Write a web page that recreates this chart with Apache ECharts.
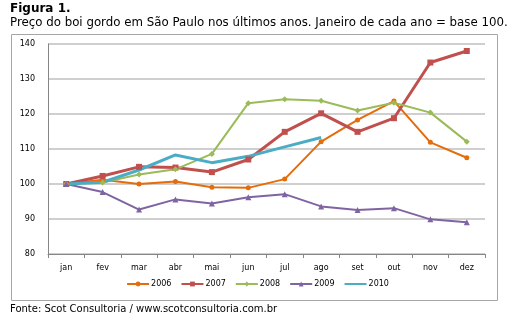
<!DOCTYPE html>
<html><head><meta charset="utf-8">
<script src="https://cdn.jsdelivr.net/npm/echarts@6/dist/echarts.min.js"></script>
<style>html,body{margin:0;padding:0;background:#fff}#c{width:515px;height:321px}</style>
</head><body><div id="c"></div>
<script>
const months = ['jan','fev','mar','abr','mai','jun','jul','ago','set','out','nov','dez'];
const s2006 = [100,101.2,100,100.7,99.1,98.9,101.4,112.1,118.3,123.7,111.9,107.5];
const s2007 = [100,102.3,104.9,104.7,103.4,107,114.9,120.2,114.9,118.8,134.7,138];
const s2008 = [100,100.4,102.7,104.2,108.6,123.1,124.2,123.8,121,123.2,120.4,112.1];
const s2009 = [100,97.7,92.7,95.6,94.4,96.2,97.1,93.6,92.6,93.1,89.9,89.1];
const s2010 = [100,100.5,104,108.3,106.1,107.9,110.6,113.3];
const yTicks = [80,90,100,110,120,130,140];

const chart = echarts.init(document.getElementById('c'), null, {renderer:'canvas'});
const font = 'DejaVu Sans';
function ser(name, data, color, symbol, size, width){
  return {name, type:'line', data, color, symbol, symbolSize:size, showSymbol: symbol!=='none',
    lineStyle:{width, color}, itemStyle:{color}, z: 2};
}
chart.setOption({
  animation:false,
  textStyle:{fontFamily:font},
  graphic:[
    {type:'rect', shape:{x:11.5,y:34.5,width:486,height:266}, style:{fill:'none', stroke:'#a6a6a6', lineWidth:1}},
    {type:'text', left:10, top:3, style:{text:'Figura 1.', font:'bold 12px "DejaVu Sans"', fill:'#000'}},
    {type:'text', left:10, top:17, style:{text:'Preço do boi gordo em São Paulo nos últimos anos. Janeiro de cada ano = base 100.', font:'11.8px "DejaVu Sans"', fill:'#000'}},
    {type:'text', left:10, top:304, style:{text:'Fonte: Scot Consultoria / www.scotconsultoria.com.br', font:'10px "DejaVu Sans"', fill:'#000'}}
  ],
  grid:{left:48, right:30, top:44, bottom:67, containLabel:false},
  legend:{bottom:28, left:'center', itemWidth:22, itemHeight:6, itemGap:9,
    textStyle:{fontSize:8, fontFamily:font, color:'#000', padding:[0,0,0,-3]},
    data:['2006','2007','2008','2009',{name:'2010', itemStyle:{opacity:0}}]},
  xAxis:{type:'category', data:months, boundaryGap:true,
    axisLine:{lineStyle:{color:'#868686'}},
    axisTick:{show:true, lineStyle:{color:'#868686'}, length:4},
    axisLabel:{fontSize:8, color:'#000', margin:10}},
  yAxis:{type:'value', min:80, max:140, interval:10,
    axisLine:{show:true, lineStyle:{color:'#868686'}},
    axisTick:{show:false},
    splitLine:{lineStyle:{color:'#bfbfbf', width:1.5}},
    axisLabel:{fontSize:8, color:'#000', margin:13,
      formatter:v=> yTicks.includes(v)? String(v):''}},
  series:[
    ser('2006', s2006, '#E46C0A', 'circle', 5, 2),
    ser('2007', s2007, '#C0504D', 'rect', 6, 3),
    ser('2008', s2008, '#9BBB59', 'diamond', 6, 2),
    ser('2009', s2009, '#8064A2', 'triangle', 6, 2),
    ser('2010', s2010, '#4BACC6', 'none', 0, 3)
  ]
});
</script></body></html>
